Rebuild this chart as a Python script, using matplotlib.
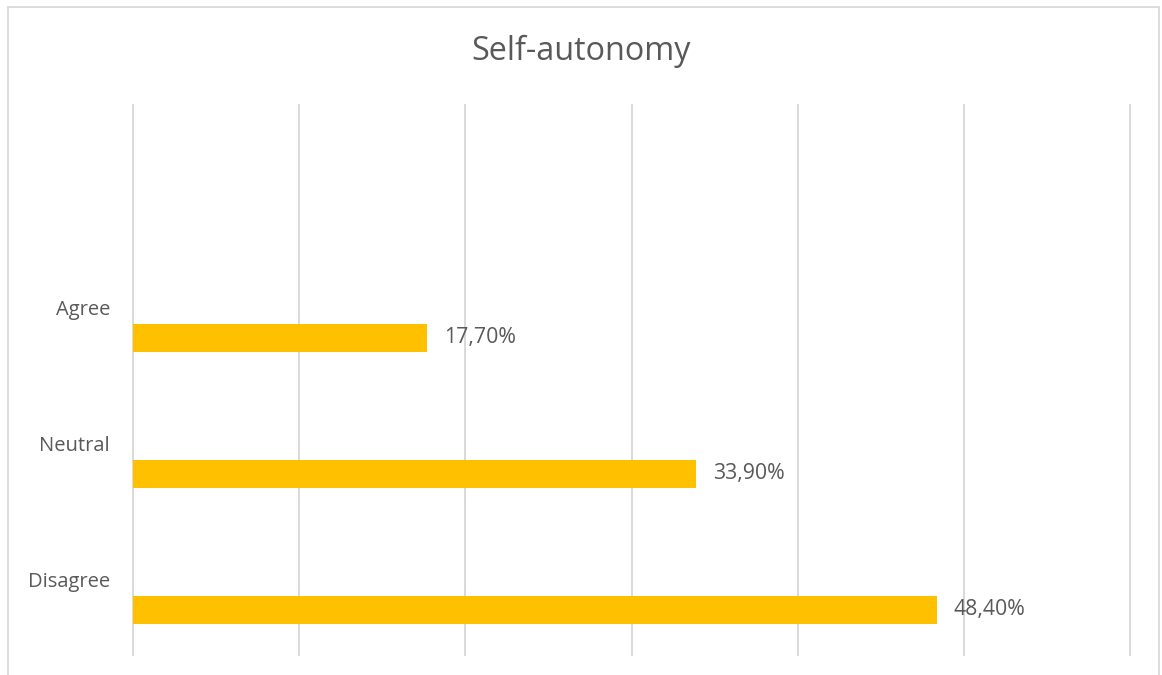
import matplotlib
matplotlib.use("Agg")
import matplotlib.pyplot as plt
from matplotlib.patches import Rectangle

categories = ["Disagree", "Neutral", "Agree"]
values = [48.4, 33.9, 17.7]
title = "Self-autonomy"

W, H, DPI = 1162, 675, 100
fig = plt.figure(figsize=(W / DPI, H / DPI), dpi=DPI)
plt.rcParams["font.family"] = ["Open Sans", "DejaVu Sans"]

text_color = "#595959"
grid_color = "#D9D9D9"
bar_color = "#FFC000"

# chart-area border
fig.patches.append(Rectangle((8 / W, -0.01), (1159 - 8) / W, 1 - 6.5 / H + 0.01,
                             transform=fig.transFigure, fill=False,
                             edgecolor=grid_color, linewidth=1.3))

left, right, top, bottom = 133, 1130, 105, 655
ax = fig.add_axes([left / W, 1 - bottom / H, (right - left) / W, (bottom - top) / H])

slot = 136.0
ypos = list(range(len(categories)))
bars = ax.barh(ypos, values, height=28 / slot, color=bar_color, zorder=3)

ax.set_xlim(0, 60)
ax.set_ylim(-(bottom - 610) / slot, (610 - top) / slot)
for gx in range(0, 61, 10):
    ax.axvline(gx, color=grid_color, linewidth=1.4, zorder=0, clip_on=False)
ax.set_xticks([])
ax.set_yticks([])
for s in ax.spines.values():
    s.set_visible(False)

# category names sit just above each bar
for y, name in zip(ypos, categories):
    ax.text(-23 / (right - left) * 60, y + 28 / slot, name, ha="right", va="center",
            fontsize=14.5, color=text_color)

labels = [f"{v:.2f}%".replace(".", ",") for v in values]
ax.bar_label(bars, labels=labels, padding=12, fontsize=15.3, color=text_color)

fig.text(0.5, 1 - 51 / H, title, ha="center", va="center", fontsize=23.3, color=text_color)

fig.savefig("out.png", dpi=DPI)
